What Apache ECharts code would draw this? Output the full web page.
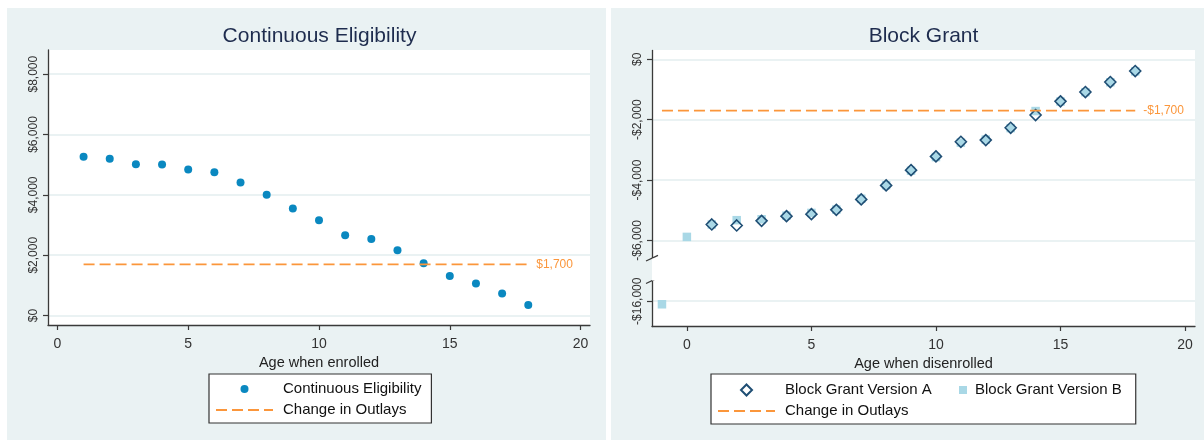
<!DOCTYPE html>
<html><head><meta charset="utf-8">
<script src="https://cdn.jsdelivr.net/npm/echarts@6/dist/echarts.min.js"></script>
<style>html,body{margin:0;padding:0;background:#fff}#c{width:1204px;height:440px}</style>
</head><body><div id="c"></div>
<script>
// ---- data ----
const ageEnrolled = [1,2,3,4,5,6,7,8,9,10,11,12,13,14,15,16,17,18];
const contElig = [5260,5194,5018,5008,4842,4753,4411,4000,3549,3161,2663,2541,2166,1735,1313,1061,730,352];
const ageA = [1,2,3,4,5,6,7,8,9,10,11,12,13,14,15,16,17,18];
const blockA = [-5473,-5506,-5353,-5197,-5131,-4988,-4643,-4179,-3672,-3217,-2733,-2677,-2269,-1847,-1393,-1085,-753,-388];
const ageB = [-1,0,1,2,3,4,5,6,7,8,9,10,11,12,13,14,15,16,17,18];
const blockB = [-16100,-5884,-5473,-5330,-5300,-5180,-5090,-4980,-4620,-4170,-3690,-3240,-2760,-2660,-2280,-1715,-1400,-1090,-760,-400];
const outlayLeft = 1700;
const outlayRight = -1700;
const outlayLeftX = [1,18];
const outlayRightX = [-1,18];
const xTicks = [0,5,10,15,20];
const leftYTicks = [0,2000,4000,6000,8000];
const rightYTicks = [-16000,-6000,-4000,-2000,0];
const titles = ['Continuous Eligibility','Block Grant'];
const xNames = ['Age when enrolled','Age when disenrolled'];
const breakStart = -15320, breakEnd = -6590, breakGap = 746;

const fmtMoney = v => (v < 0 ? '-' : '') + '$' + Math.abs(v).toLocaleString('en-US');
const FONT = 'Liberation Sans, Arial, sans-serif';
const AXIS = '#3a3a3a', GRIDC = '#eaf2f3', TXT = '#333', ORANGE = '#fb963b';

const chart = echarts.init(document.getElementById('c'), null, {renderer:'canvas'});

function xAxisCfg(gi, min, max, name){
  return {
    gridIndex: gi, type:'value', min, max, name, nameLocation:'middle', nameGap:22,
    nameTextStyle:{fontSize:14.5, color:'#222', fontFamily:FONT},
    axisLine:{show:true, onZero:false, lineStyle:{color:AXIS, width:1.3}},
    axisTick:{show:true, length:5, customValues:xTicks, lineStyle:{color:AXIS, width:1.2}},
    axisLabel:{customValues:xTicks, fontSize:14, color:TXT, margin:12, fontFamily:FONT},
    splitLine:{show:false}
  };
}
function yAxisCfg(gi, min, max, ticks, extra){
  return Object.assign({
    gridIndex: gi, type:'value', min, max,
    axisLine:{show:true, onZero:false, lineStyle:{color:AXIS, width:1.3}},
    axisTick:{show:true, length:5, customValues:ticks, lineStyle:{color:AXIS, width:1.2}},
    axisLabel:{customValues:ticks, rotate:90, fontSize:12, color:TXT, margin:8, fontFamily:FONT, formatter:fmtMoney},
    splitLine:{show:true, lineStyle:{color:GRIDC, width:2}}
  }, extra||{});
}

const bgGraphics = [
  {id:'bgL', type:'rect', left:7, top:8, z:-100, silent:true, shape:{width:599, height:432}, style:{fill:'#eaf2f3'}},
  {id:'bgR', type:'rect', left:611, top:8, z:-100, silent:true, shape:{width:593, height:432}, style:{fill:'#eaf2f3'}}
];

const legendText = {fontSize:15, color:'#111', fontFamily:FONT, lineHeight:16, padding:[0,0,0,5]};
const noSymbol = {opacity:0, color:'rgba(0,0,0,0)', borderColor:'rgba(0,0,0,0)', borderWidth:0};
const diamondIcon = 'path://M5,0L10,5L5,10L0,5Z';

chart.setOption({
  animation:false,
  textStyle:{fontFamily:FONT},
  title:[
    {text:titles[0], left:319.5, top:36, textAlign:'center', textVerticalAlign:'middle', padding:0,
     textStyle:{fontSize:21, fontWeight:'normal', color:'#1e2c4e', fontFamily:FONT}},
    {text:titles[1], left:923.5, top:36, textAlign:'center', textVerticalAlign:'middle', padding:0,
     textStyle:{fontSize:21, fontWeight:'normal', color:'#1e2c4e', fontFamily:FONT}}
  ],
  grid:[
    {left:48, top:50, right:614, bottom:115, show:true, backgroundColor:'#fff', borderWidth:0, containLabel:false},
    {left:652, top:50, right:9, bottom:114, show:true, backgroundColor:'#fff', borderWidth:0, containLabel:false}
  ],
  xAxis:[ xAxisCfg(0, -0.36, 20.36, xNames[0]), xAxisCfg(1, -1.4, 20.4, xNames[1]) ],
  yAxis:[
    yAxisCfg(0, -312, 8800, leftYTicks),
    yAxisCfg(1, -16820, 308, rightYTicks, {
      breaks:[{start:breakStart, end:breakEnd, gap:breakGap}],
      breakArea:{show:true, itemStyle:{color:'#fff', borderColor:'rgba(0,0,0,0)', borderWidth:0, opacity:1}, zigzagAmplitude:0}
    })
  ],
  legend:[
    {left:209, top:374, orient:'vertical', selectedMode:false,
     data:['Continuous Eligibility', {name:'Change in Outlays', itemStyle:noSymbol}],
     itemWidth:57, itemHeight:8, itemGap:5, padding:[7,10,5,6],
     borderColor:'#333', borderWidth:1.2, borderRadius:0, backgroundColor:'#fff', textStyle:legendText},
    {left:711, top:374, orient:'vertical', selectedMode:false, symbolKeepAspect:true,
     data:[{name:'Block Grant Version A', icon:diamondIcon}, {name:'Change in Outlays', itemStyle:noSymbol}],
     itemWidth:57, itemHeight:11, itemGap:5, padding:[8,204,5,6],
     borderColor:'#333', borderWidth:1.2, borderRadius:0, backgroundColor:'#fff', textStyle:legendText},
    {left:959, top:382, orient:'horizontal', selectedMode:false,
     data:['Block Grant Version B'],
     itemWidth:8, itemHeight:8, padding:0, textStyle:Object.assign({}, legendText, {padding:[0,0,0,3]})}
  ],
  series:[
    {type:'scatter', name:'Continuous Eligibility', xAxisIndex:0, yAxisIndex:0,
     data:ageEnrolled.map((a,i)=>[a, contElig[i]]), symbol:'circle', symbolSize:8,
     itemStyle:{color:'#0a88c0', opacity:1}},
    {type:'line', name:'Change in Outlays', xAxisIndex:0, yAxisIndex:0,
     data:outlayLeftX.map(x=>[x, outlayLeft]), symbol:'none', showSymbol:false,
     lineStyle:{color:ORANGE, width:1.8, type:[11,5]}, itemStyle:{color:ORANGE},
     endLabel:{show:true, formatter:p=>fmtMoney(p.value[1]), color:ORANGE, fontSize:12, distance:8, fontFamily:FONT}},
    {type:'scatter', name:'Block Grant Version B', xAxisIndex:1, yAxisIndex:1,
     data:ageB.map((a,i)=>[a, blockB[i]]), symbol:'rect', symbolSize:8.5,
     itemStyle:{color:'#a9d8e6', opacity:1}},
    {type:'scatter', name:'Block Grant Version A', xAxisIndex:1, yAxisIndex:1,
     data:ageA.map((a,i)=>[a, blockA[i]]), symbol:'diamond', symbolSize:11,
     itemStyle:{color:'rgba(255,255,255,0)', borderColor:'#1f4e74', borderWidth:1.6, opacity:1}},
    {type:'line', name:'Change in Outlays', xAxisIndex:1, yAxisIndex:1,
     data:outlayRightX.map(x=>[x, outlayRight]), symbol:'none', showSymbol:false,
     lineStyle:{color:ORANGE, width:1.8, type:[11,5]}, itemStyle:{color:ORANGE},
     endLabel:{show:true, formatter:p=>fmtMoney(p.value[1]), color:ORANGE, fontSize:12, distance:8, fontFamily:FONT}}
  ],
  graphic: bgGraphics
});

// break marks on the right y axis, positioned from the axis scale
const axX = chart.convertToPixel({xAxisIndex:1}, -1.4);
const yUp = chart.convertToPixel({yAxisIndex:1}, breakEnd);
const yDn = chart.convertToPixel({yAxisIndex:1}, breakStart);
const slash = (id, y) => ({id, type:'line', silent:true, z:10,
  shape:{x1:axX-6, y1:y+2.8, x2:axX+6, y2:y-2.8}, style:{stroke:AXIS, lineWidth:1.3}});
chart.setOption({graphic: bgGraphics.concat([slash('s1', yUp), slash('s2', yDn)])});
</script></body></html>
